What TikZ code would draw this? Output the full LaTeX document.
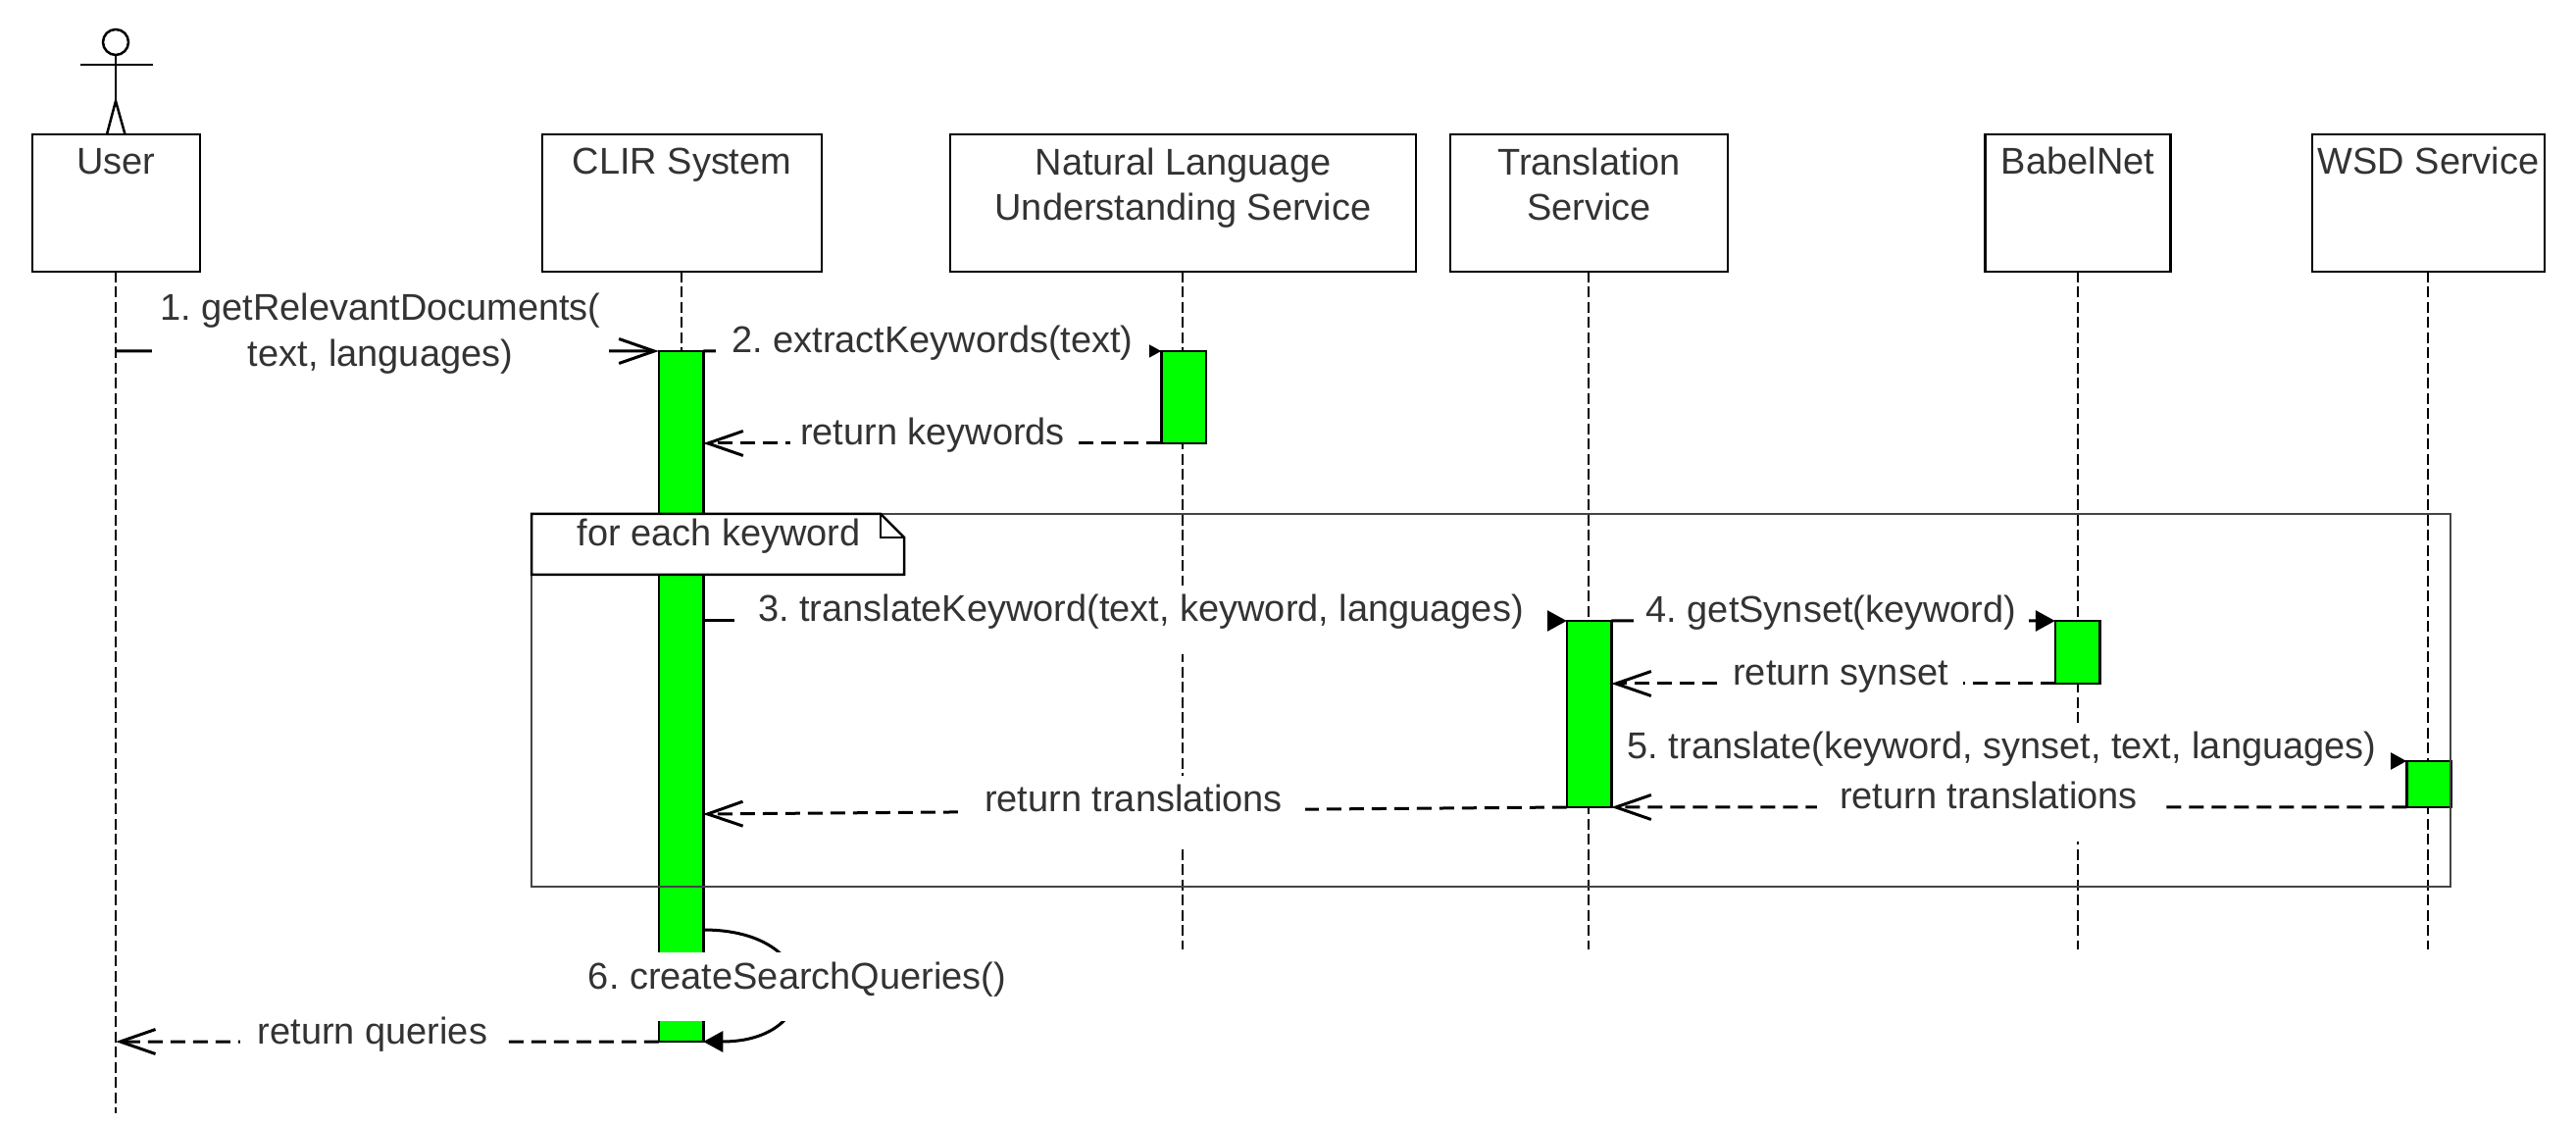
\documentclass[tikz,border=0pt]{standalone}
\usepackage{fontspec}
\setmainfont{Liberation Sans}
\usetikzlibrary{arrows.meta}
\definecolor{txtgray}{HTML}{333333}
\definecolor{framegray}{HTML}{444444}
\definecolor{barfill}{HTML}{00FF00}
\frenchspacing
\begin{document}
\begin{tikzpicture}[
      every node/.style={font=\frenchspacing\fontsize{10.8}{13.3}\selectfont, text=txtgray},
      objbox/.style={draw=black, line width=.025cm, fill=white, inner sep=0, outer sep=0, align=center, minimum height=1.4cm, text height=.41cm, text depth=.99cm},
      objboxtwo/.style={objbox, text height=.88cm, text depth=.52cm},
      bar/.style={draw=black, line width=.025cm, fill=barfill, inner sep=0, outer sep=0, minimum width=.455cm},
      lifeline/.style={draw=black, line width=.022cm, dash pattern=on .11cm off .045cm},
      call/.style={draw=black, line width=.03cm, -{Triangle[length=.2cm,width=.21cm]}},
      entry/.style={draw=black, line width=.03cm, -{Straight Barb[length=.36cm,width=.25cm]}},
      reply/.style={draw=black, line width=.03cm, dash pattern=on .15cm off .08cm, -{Straight Barb[length=.36cm,width=.25cm]}},
      msg/.style={fill=white, inner xsep=0, inner ysep=0, outer sep=0, text height=.37cm, text depth=.33cm}]
            \useasboundingbox (0,0) rectangle (26.27,-11.47);
            % objects
            \node[objbox, minimum width=1.71cm] (user) at (1.185,-2.07) {User};
            \node[objbox, minimum width=2.85cm] (clir) at (6.955,-2.07) {CLIR System};
            \node[objboxtwo, minimum width=4.75cm] (nlu) at (12.065,-2.07) {Natural Language\\Understanding Service};
            \node[objboxtwo, minimum width=2.83cm] (trans) at (16.205,-2.07) {Translation\\Service};
            \node[objbox, minimum width=1.89cm] (babel) at (21.19,-2.07) {BabelNet};
            \node[objbox, minimum width=2.37cm] (wsd) at (24.765,-2.07) {WSD Service};
            % actor
            \node[circle, draw=black, line width=.025cm, minimum size=.26cm, inner sep=0, outer sep=0] (head) at (1.18,-.43) {};
            \draw[line width=.025cm] (head) -- (1.18,-1.03);
            \draw[line width=.025cm] (.815,-.66) -- (1.555,-.66);
            \draw[line width=.025cm] (1.09,-1.37) -- (1.18,-1.03) -- (1.275,-1.37);
            % lifelines
            \coordinate (userend) at (1.18,-11.35);
            \coordinate (clirend) at (6.95,-9.68);
            \coordinate (nluend) at (12.06,-9.68);
            \coordinate (transend) at (16.2,-9.68);
            \coordinate (babelend) at (21.19,-9.68);
            \coordinate (wsdend) at (24.76,-9.68);
            \draw[lifeline] (1.18,-2.77) -- (userend);
            \draw[lifeline] (6.95,-2.77) -- (clirend);
            \draw[lifeline] (12.06,-2.77) -- (nluend);
            \draw[lifeline] (16.2,-2.77) -- (transend);
            \draw[lifeline] (21.19,-2.77) -- (babelend);
            \draw[lifeline] (24.76,-2.77) -- (wsdend);
            % activations
            \node[bar, minimum height=7.04cm] (clirbar) at (6.945,-7.10) {};
            \node[bar, minimum height=.94cm] (nlubar) at (12.07,-4.05) {};
            \node[bar, minimum height=1.90cm] (transbar) at (16.205,-7.28) {};
            \node[bar, minimum height=.64cm] (babelbar) at (21.185,-6.65) {};
            \node[bar, minimum height=.47cm] (wsdbar) at (24.77,-7.995) {};
            % loop frame
            \node[draw=framegray, line width=.028cm, inner sep=0, outer sep=0, minimum width=19.57cm, minimum height=3.80cm] (loopframe) at (15.205,-7.14) {};
            \draw[draw=black, line width=.025cm, fill=white] (5.42,-5.24) -- (8.98,-5.24) -- (9.22,-5.48) -- (9.22,-5.86) -- (5.42,-5.86) -- cycle;
            \draw[draw=black, line width=.025cm] (8.98,-5.24) -- (8.98,-5.48) -- (9.22,-5.48);
            \node[anchor=base] (looptag) at (7.33,-5.565) {for each keyword};
            % messages
            \coordinate (userstart) at (1.18,-3.58);
            \coordinate (userback) at (1.18,-10.62);
            \coordinate (clirback) at (7.17,-8.30);
            \coordinate (selfstart) at (7.17,-9.48);
            \draw[entry] (userstart) -- (clirbar.north west);
            \draw[call] (clirbar.north east) -- (nlubar.north west);
            \draw[reply] (nlubar.south west) -- (clirbar.east |- nlubar.south);
            \draw[call] (clirbar.east |- transbar.north) -- (transbar.north west);
            \draw[call] (transbar.north east) -- (babelbar.north west);
            \draw[reply] (babelbar.south west) -- (transbar.east |- babelbar.south);
            \draw[call] (transbar.east |- wsdbar.north) -- (wsdbar.north west);
            \draw[reply] (wsdbar.south west) -- (transbar.south east);
            \draw[reply] (transbar.south west) -- (clirback);
            \draw[call] (selfstart) .. controls (8.42,-9.48) and (8.42,-10.62) .. (clirbar.south east);
            \draw[reply] (clirbar.south west) -- (userback);
            % message labels
            \node[fill=white, inner sep=0, outer sep=0, align=center, minimum width=4.66cm, minimum height=.8cm] (m1) at (3.88,-3.40) {1. getRelevantDocuments(\\text, languages)};
            \node[msg, minimum width=4.42cm] (m2) at (9.51,-3.58) {2. extractKeywords(text)};
            \node[msg, minimum width=2.90cm] (r2) at (9.51,-4.52) {return keywords};
            \node[msg, minimum width=8.29cm] (m3) at (11.635,-6.32) {3. translateKeyword(text, keyword, languages)};
            \node[msg, minimum width=4.03cm] (m4) at (18.675,-6.33) {4. getSynset(keyword)};
            \node[msg, minimum width=2.50cm] (r4) at (18.77,-6.97) {return synset};
            \node[msg, minimum width=7.93cm] (m5) at (20.415,-7.72) {5. translate(keyword, synset, text, languages)};
            \node[msg, minimum width=3.50cm] (r5) at (20.28,-8.23) {return translations};
            \node[msg, minimum width=3.50cm] (r3) at (11.56,-8.26) {return translations};
            \node[msg, minimum width=4.60cm] (m6) at (8.13,-10.06) {6. createSearchQueries()};
            \node[msg, minimum width=2.70cm] (r6) at (3.80,-10.62) {return queries};
\end{tikzpicture}
\end{document}
